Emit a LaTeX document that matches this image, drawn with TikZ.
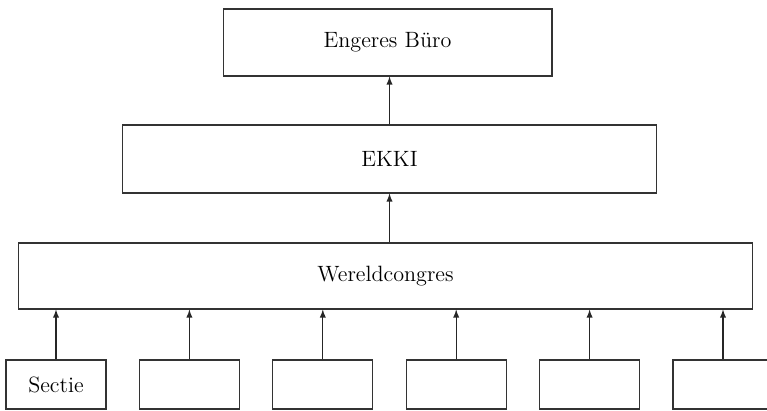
\documentclass[tikz,border=0pt]{standalone}
\usepackage{tikz}
\usetikzlibrary{arrows}

\tikzset{
  orgbox/.style={draw=black!80,line width=0.6pt,rectangle,inner sep=0pt,font=\fontsize{12.6}{14}\selectfont},
  orgarrow/.style={-latex,draw=black!85,line width=0.6pt,>=latex,shorten >=0pt}
}

\begin{document}
\begin{tikzpicture}[x=0.02cm,y=-0.02cm]
                      \clip (0,0) rectangle (767,410);
                      \node[orgbox,minimum width=6.58cm,minimum height=1.34cm](buro)at(387.5,42.5){Engeres B\"uro};
                      \node[orgbox,minimum width=10.7cm,minimum height=1.36cm](ekki)at(389.5,159){EKKI};
                      \node[orgbox,minimum width=14.7cm,minimum height=1.32cm](wc)at(385.5,276){Wereldcongres};
                      \draw[orgarrow] (ekki.north) -- (buro.south -| ekki.north);
                      \draw[orgarrow] (wc.north -| ekki.south) -- (ekki.south);
                      \node[orgbox,minimum width=2cm,minimum height=0.98cm](s1)at(56,384.5){Sectie};
                      \foreach \i/\x in {2/189.4,3/322.8,4/456.2,5/589.6,6/723}{
                        \node[orgbox,minimum width=2cm,minimum height=0.98cm](s\i)at(\x,384.5){};
                      }
                      \foreach \i in {1,...,6}{
                        \draw[orgarrow] (s\i.north) -- (s\i.north |- wc.south);
                      }
                  \end{tikzpicture}
\end{document}
